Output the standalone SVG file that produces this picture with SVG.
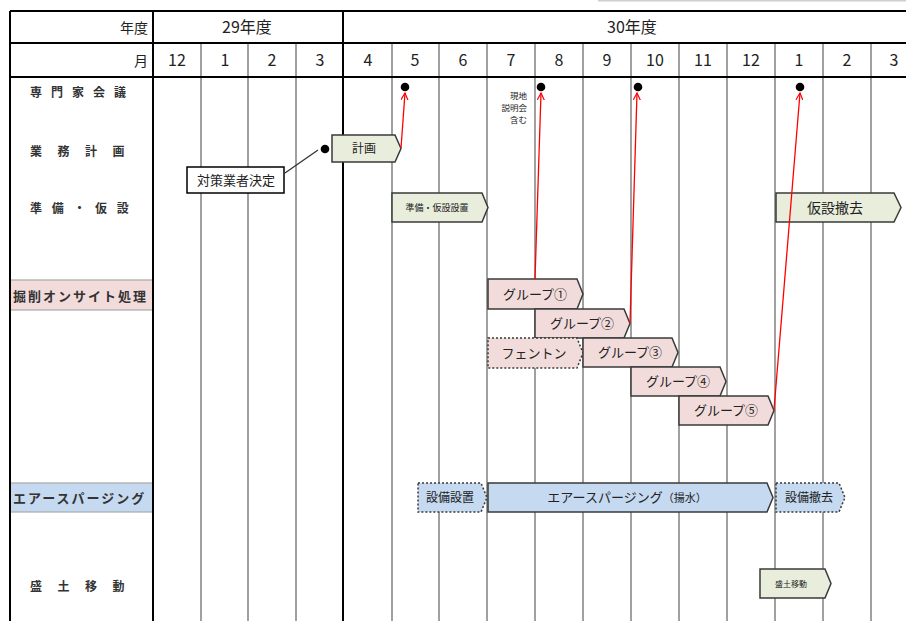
<svg xmlns="http://www.w3.org/2000/svg" width="906" height="621" viewBox="0 0 906 621">
<style>
text{font-family:"Noto Sans CJK JP","Liberation Sans",sans-serif;fill:#222}
.hdr{font-size:16px;text-anchor:middle}
.num{font-family:"Liberation Sans","Noto Sans CJK JP",sans-serif;font-size:16px;text-anchor:middle}
.lbl{font-size:12px;font-weight:bold;fill:#333}
.blk{stroke:#000;stroke-width:2;fill:none}
.gry{stroke:#a0a0a0;stroke-width:2;fill:none}
.grn{fill:#e9eddb;stroke:#3a3a3a;stroke-width:1.5}
.pnk{fill:#f2dcdb;stroke:#3a3a3a;stroke-width:1.5}
.blu{fill:#c5d9f1;stroke:#3a3a3a;stroke-width:1.5}
.dsh{stroke-dasharray:2 2}
.bt{text-anchor:middle;font-size:13px}
.red{stroke:#f00;stroke-width:1.3;fill:none;marker-end:url(#ah)}
</style>
<defs>
<marker id="ah" viewBox="0 0 8 8" refX="7" refY="4" markerWidth="8" markerHeight="8" orient="auto" markerUnits="userSpaceOnUse">
<path d="M0,0.5 L7,4 L0,7.5" fill="none" stroke="#f00" stroke-width="1.2"/>
</marker>
</defs>
<rect width="906" height="621" fill="#fff"/>
<line x1="598" y1="0.8" x2="906" y2="0.8" stroke="#cfcfcf" stroke-width="1.6"/>

<g id="table">
<rect x="10" y="280" width="143" height="30" fill="#f2dcdb" stroke="#a8a8a8" stroke-width="1.2"/>
<rect x="10" y="483" width="143" height="29" fill="#c5d9f1" stroke="#a8a8a8" stroke-width="1.2"/>
<g class="gry">
<path d="M201 43V621M248 43V621M296 43V621M392 43V621M439 43V621M487 43V621M535 43V621M583 43V621M631 43V621M679 43V621M727 43V621M775 43V621M823 43V621M871 43V621"/>
</g>
<g class="blk">
<path d="M10 11H906M10 43H906M10 77H906M10 11V621M153 11V621M343 11V621"/>
</g>
<text x="148" y="33" style="font-size:14px" text-anchor="end">年度</text>
<text x="148" y="66" style="font-size:14px" text-anchor="end">月</text>
<text class="hdr" x="247" y="33">29年度</text>
<text class="hdr" x="632" y="33">30年度</text>
<g class="num">
<text x="177" y="66">12</text><text x="225" y="66">1</text><text x="272" y="66">2</text><text x="320" y="66">3</text>
<text x="368" y="66">4</text><text x="415" y="66">5</text><text x="463" y="66">6</text><text x="511" y="66">7</text>
<text x="559" y="66">8</text><text x="607" y="66">9</text><text x="655" y="66">10</text><text x="703" y="66">11</text>
<text x="751" y="66">12</text><text x="799" y="66">1</text><text x="847" y="66">2</text><text x="894" y="66">3</text>
</g>
<text class="lbl" x="30" y="97" letter-spacing="9">専門家会議</text>
<text class="lbl" x="30" y="156" letter-spacing="15.5">業務計画</text>
<text class="lbl" x="30" y="213" letter-spacing="9.7">準備・仮設</text>
<text class="lbl" x="13" y="300.5" style="font-size:13px" letter-spacing="2">掘削オンサイト処理</text>
<text class="lbl" x="13" y="502.5" style="font-size:13px" letter-spacing="2">エアースパージング</text>
<text class="lbl" x="30" y="591" letter-spacing="15.5">盛土移動</text>
</g>

<g id="node-keikaku">
<path class="grn" d="M332 135H395L401 148.5L395 162H332Z"/>
<text class="bt" x="364" y="153" style="font-size:12px">計画</text>
</g>
<g id="node-taisaku">
<rect x="187" y="167" width="97" height="26" fill="#fff" stroke="#000" stroke-width="1.5"/>
<text class="bt" x="236" y="185">対策業者決定</text>
</g>
<g id="node-junbi">
<path class="grn" d="M392 193H482L488 207.5L482 222H392Z"/>
<text class="bt" x="437" y="211" style="font-size:9px">準備・仮設設置</text>
</g>
<g id="node-tekkyo">
<path class="grn" d="M776 193H894L901 207.5L894 222H776Z"/>
<text class="bt" x="835" y="213" style="font-size:14px">仮設撤去</text>
</g>
<g id="node-g1">
<path class="pnk" d="M488 279H577L583 294L577 309H488Z"/>
<text class="bt" x="535" y="299">グループ①</text>
</g>
<g id="node-g2">
<path class="pnk" d="M535 309H624L630 323.5L624 338H535Z"/>
<text class="bt" x="582" y="328">グループ②</text>
</g>
<g id="node-fenton">
<path class="pnk dsh" d="M488 338H577L583 353L577 368H488Z"/>
<text class="bt" x="534" y="358">フェントン</text>
</g>
<g id="node-g3">
<path class="pnk" d="M583 338H672L678 352.5L672 367H583Z"/>
<text class="bt" x="630" y="357">グループ③</text>
</g>
<g id="node-g4">
<path class="pnk" d="M631 367H720L726 381.5L720 396H631Z"/>
<text class="bt" x="678" y="386">グループ④</text>
</g>
<g id="node-g5">
<path class="pnk" d="M679 396H768L774 410.5L768 425H679Z"/>
<text class="bt" x="726" y="415">グループ⑤</text>
</g>
<g id="node-setsubi">
<path class="blu dsh" d="M418 483H481L487 497.5L481 512H418Z"/>
<text class="bt" x="450" y="502" style="font-size:12px">設備設置</text>
</g>
<g id="node-as">
<path class="blu" d="M488 483H767L773 497.5L767 512H488Z"/>
<text class="bt" x="627" y="502">エアースパージング<tspan style="font-size:11px">（揚水）</tspan></text>
</g>
<g id="node-setsubitekkyo">
<path class="blu dsh" d="M776 483H839L845 497.5L839 512H776Z"/>
<text class="bt" x="809" y="502" style="font-size:12px">設備撤去</text>
</g>
<g id="node-morido">
<path class="grn" d="M760 569H825L831 583.5L825 598H760Z"/>
<text class="bt" x="791" y="586.5" style="font-size:8px">盛土移動</text>
</g>
<g id="note">
<text x="527" y="99" style="font-size:8.5px" text-anchor="end">現地</text>
<text x="527" y="111" style="font-size:8.5px" text-anchor="end">説明会</text>
<text x="527" y="123" style="font-size:8.5px" text-anchor="end">含む</text>
</g>

<g id="connectors">
<line x1="285" y1="173" x2="318" y2="150" stroke="#333" stroke-width="1.3"/>
<line class="red" x1="401" y1="148" x2="405" y2="93"/>
<line class="red" x1="535" y1="279" x2="541" y2="93"/>
<line class="red" x1="630" y1="323" x2="637" y2="93"/>
<line class="red" x1="774" y1="410" x2="800" y2="93"/>
<g fill="#000">
<circle cx="325" cy="149" r="4.3"/>
<circle cx="405" cy="87" r="4.3"/>
<circle cx="541" cy="87" r="4.3"/>
<circle cx="638" cy="87" r="4.3"/>
<circle cx="800" cy="87" r="4.3"/>
</g>
</g>
</svg>
